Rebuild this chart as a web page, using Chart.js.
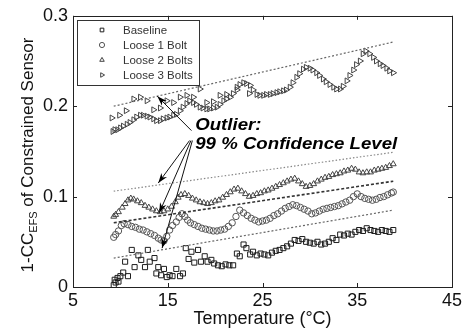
<!DOCTYPE html>
<html>
<head>
<meta charset="utf-8">
<script src="https://cdn.jsdelivr.net/npm/chart.js@4/dist/chart.umd.min.js"></script>
<style>
  html, body { margin: 0; background: #fff; }
  #wrap { width: 468px; height: 330px; }
</style>
</head>
<body>
<div id="wrap"><canvas id="chart"></canvas></div>
<script>
// Axis ticks
const xTicks = [5, 15, 25, 35, 45];
const yTicks = [0, 0.1, 0.2, 0.3];

// Series: [temperature, 1-CC]
const baselinePts = [[9.3,0.002],[9.4,0.008],[9.5,0.005],[9.7,0.010],[9.8,0.006],[10.0,0.012],[10.3,0.016],[10.5,0.028],[10.8,0.012],
  [11.2,0.041],[11.5,0.022],[11.9,0.035],[12.2,0.030],[12.6,0.022],[12.9,0.041],[13.1,0.028],[13.6,0.032],[13.8,0.015],[14.0,0.022],
  [14.3,0.013],[14.6,0.020],[14.9,0.011],[15.2,0.013],[15.5,0.012],[15.9,0.020],[16.3,0.012],[16.6,0.015],[16.9,0.043],[17.2,0.031],
  [17.5,0.039],[17.8,0.027],[18.2,0.041],[18.5,0.028],[18.9,0.034],[19.2,0.028],[19.6,0.030],[19.9,0.026],[20.3,0.024],[20.7,0.023],
  [21.1,0.025],[21.5,0.024],[21.9,0.024],[22.3,0.037],[22.6,0.034],[23.0,0.047],[23.3,0.043],[23.7,0.036],[24.0,0.039],[24.4,0.035],
  [24.8,0.037],[25.2,0.036],[25.6,0.035],[26.0,0.038],[26.4,0.040],[26.8,0.041],[27.2,0.043],[27.6,0.045],[28.0,0.048],[28.4,0.052],
  [28.8,0.051],[29.2,0.053],[29.6,0.050],[30.0,0.049],[30.4,0.048],[30.8,0.050],[31.2,0.047],[31.6,0.048],[32.0,0.050],[32.4,0.054],
  [32.8,0.052],[33.2,0.058],[33.6,0.057],[34.0,0.059],[34.4,0.058],[34.8,0.061],[35.2,0.063],[35.6,0.062],[36.0,0.065],[36.4,0.063],
  [36.8,0.062],[37.2,0.061],[37.6,0.063],[38.0,0.062],[38.4,0.061],[38.8,0.063]];

const loose1Pts = [[9.3,0.055],[9.5,0.058],[9.8,0.062],[10.1,0.068],[10.4,0.070],[10.8,0.069],[11.2,0.067],[11.6,0.066],[12.0,0.064],
  [12.4,0.063],[12.8,0.061],[13.2,0.059],[13.6,0.057],[14.0,0.054],[14.3,0.052],[14.6,0.051],[14.9,0.056],[15.2,0.063],[15.5,0.068],
  [15.9,0.072],[16.2,0.077],[16.5,0.081],[16.8,0.078],[17.1,0.074],[17.4,0.071],[17.8,0.069],[18.2,0.067],[18.6,0.065],[19.0,0.064],
  [19.4,0.063],[19.8,0.062],[20.2,0.062],[20.6,0.063],[21.0,0.064],[21.4,0.067],[21.8,0.071],[22.2,0.078],[22.6,0.085],[23.0,0.082],
  [23.4,0.079],[23.8,0.076],[24.2,0.074],[24.6,0.072],[25.0,0.073],[25.4,0.074],[25.8,0.076],[26.2,0.079],[26.6,0.081],[27.0,0.084],
  [27.4,0.087],[27.8,0.089],[28.2,0.091],[28.6,0.090],[29.0,0.088],[29.4,0.086],[29.8,0.084],[30.2,0.081],[30.6,0.082],[31.0,0.084],
  [31.4,0.086],[31.8,0.087],[32.2,0.088],[32.6,0.089],[33.0,0.090],[33.4,0.092],[33.8,0.094],[34.2,0.096],[34.6,0.100],[35.0,0.103],
  [35.4,0.100],[35.8,0.098],[36.2,0.097],[36.6,0.096],[37.0,0.097],[37.4,0.099],[37.8,0.100],[38.2,0.102],[38.6,0.104],[38.8,0.105]];

const loose2Pts = [[9.3,0.078],[9.5,0.080],[9.8,0.083],[10.2,0.088],[10.5,0.092],[10.8,0.096],[11.1,0.098],[11.4,0.097],[11.8,0.095],
  [12.2,0.093],[12.6,0.090],[13.0,0.088],[13.4,0.086],[13.8,0.084],[14.2,0.083],[14.6,0.084],[15.0,0.086],[15.4,0.089],[15.8,0.094],
  [16.1,0.099],[16.4,0.102],[16.8,0.103],[17.2,0.101],[17.6,0.098],[18.0,0.096],[18.4,0.094],[18.8,0.093],[19.2,0.092],[19.6,0.093],
  [20.0,0.095],[20.4,0.096],[20.8,0.099],[21.2,0.102],[21.6,0.105],[22.0,0.108],[22.4,0.109],[22.8,0.106],[23.2,0.103],[23.6,0.100],
  [24.0,0.101],[24.4,0.103],[24.8,0.104],[25.2,0.106],[25.6,0.107],[26.0,0.109],[26.4,0.111],[26.8,0.113],[27.2,0.115],[27.6,0.117],
  [28.0,0.119],[28.4,0.120],[28.8,0.117],[29.2,0.114],[29.6,0.111],[30.0,0.112],[30.4,0.114],[30.8,0.117],[31.2,0.119],[31.6,0.121],
  [32.0,0.122],[32.4,0.124],[32.8,0.125],[33.2,0.126],[33.6,0.128],[34.0,0.129],[34.4,0.131],[34.8,0.130],[35.2,0.127],[35.6,0.126],
  [36.0,0.127],[36.4,0.127],[36.8,0.129],[37.2,0.130],[37.6,0.131],[38.0,0.132],[38.4,0.134],[38.8,0.136]];

const loose3Pts = [[9.2,0.172],[9.4,0.174],[9.7,0.174],[10.0,0.176],[10.3,0.178],[10.7,0.180],[11.0,0.182],[11.4,0.185],[11.7,0.188],
  [12.1,0.190],[12.4,0.190],[12.8,0.189],[13.1,0.188],[13.5,0.186],[13.8,0.184],[14.2,0.184],[14.5,0.186],[14.9,0.187],[15.2,0.188],
  [15.6,0.190],[15.9,0.191],[16.3,0.195],[16.6,0.199],[17.0,0.203],[17.3,0.206],[17.7,0.204],[18.0,0.202],[18.4,0.199],[18.7,0.198],
  [19.1,0.197],[19.4,0.197],[19.8,0.198],[20.2,0.199],[20.5,0.202],[20.9,0.206],[21.2,0.208],[21.6,0.210],[21.9,0.214],[22.3,0.221],
  [22.6,0.224],[23.0,0.226],[23.3,0.225],[23.7,0.223],[24.0,0.218],[24.4,0.213],[24.7,0.212],[25.1,0.212],[25.4,0.213],[25.8,0.213],
  [26.1,0.214],[26.5,0.215],[26.8,0.216],[27.2,0.217],[27.5,0.218],[27.9,0.221],[28.2,0.226],[28.6,0.232],[28.9,0.236],[29.3,0.241],
  [29.6,0.243],[30.0,0.242],[30.3,0.240],[30.7,0.237],[31.0,0.234],[31.4,0.230],[31.7,0.227],[32.1,0.224],[32.5,0.221],[32.8,0.219],
  [33.2,0.219],[33.5,0.222],[33.9,0.228],[34.2,0.234],[34.6,0.240],[34.9,0.246],[35.3,0.250],[35.6,0.258],[35.9,0.261],[36.3,0.258],
  [36.7,0.254],[37.0,0.250],[37.4,0.247],[37.7,0.245],[38.1,0.242],[38.4,0.239],[38.8,0.237],
  [9.1,0.187],[9.9,0.190],[10.6,0.195],[11.4,0.208],[12.1,0.210],[12.8,0.206],[13.5,0.196],[14.2,0.198],[14.9,0.206],[15.6,0.204],
  [16.3,0.210],[17.0,0.212],[17.7,0.210],[18.4,0.219],[19.1,0.204],[19.8,0.205],[20.5,0.212],[21.2,0.213],[22.3,0.218],[23.6,0.214]];

// 99 % confidence thresholds (start, end)
const baselineLimit = [[9.3, 0.032], [38.8, 0.085]];
const loose1Limit = [[9.3, 0.071], [38.8, 0.117]];
const loose2Limit = [[9.3, 0.106], [38.8, 0.149]];
const loose3Limit = [[9.3, 0.200], [38.8, 0.271]];

// Annotation: text anchor and arrows (tail -> head), in data units
const noteLines = ['Outlier:', '99 % Confidence Level'];
const noteAnchor = [[17.9, 0.174], [17.9, 0.153]];
const arrowTails = [[17.5, 0.173], [17.3, 0.162], [17.45, 0.162], [17.6, 0.162]];
const arrowHeads = [[13.9, 0.211], [14.0, 0.115], [14.1, 0.082], [14.4, 0.043]];

const seriesNames = ['Baseline', 'Loose 1 Bolt', 'Loose 2 Bolts', 'Loose 3 Bolts'];

const toXY = pts => pts.map(p => ({ x: p[0], y: p[1] }));

function pointSet(label, pts, style, color, radius, rotation) {
    return {
        label: label,
        data: toXY(pts),
        pointStyle: style,
        rotation: rotation || 0,
        pointRadius: radius,
        borderColor: color,
        backgroundColor: 'rgba(255,255,255,0)',
        pointBorderWidth: 1,
        showLine: false
    };
}

function limitSet(pts, color, dash, width) {
    return {
        label: '',
        data: toXY(pts),
        showLine: true,
        pointRadius: 0,
        borderColor: color,
        borderWidth: width,
        borderDash: dash,
        fill: false
    };
}

const pointSets = [
    pointSet(seriesNames[0], baselinePts, 'rect', '#1e1e1e', 3.6),
    pointSet(seriesNames[1], loose1Pts, 'circle', '#555', 3.2),
    pointSet(seriesNames[2], loose2Pts, 'triangle', '#444', 3.4),
    pointSet(seriesNames[3], loose3Pts, 'triangle', '#444', 3.4, 90)
];

const limitSets = [
    limitSet(baselineLimit, '#666', [2, 2], 1.2),
    limitSet(loose1Limit, '#333', [3, 2], 1.6),
    limitSet(loose2Limit, '#888', [1.5, 2], 1.2),
    limitSet(loose3Limit, '#666', [2, 2], 1.2)
];

function line(ctx, x1, y1, x2, y2) {
    ctx.beginPath();
    ctx.moveTo(x1, y1);
    ctx.lineTo(x2, y2);
    ctx.stroke();
}

// Frame, inward ticks, legend, y title with subscript, outlier note
const decorPlugin = {
    id: 'decor',
    afterDraw(chart) {
        const { ctx, chartArea: a } = chart;
        const x = chart.scales.x, y = chart.scales.y;
        ctx.save();
        ctx.strokeStyle = '#222';
        ctx.lineWidth = 1;
        ctx.setLineDash([]);
        ctx.strokeRect(Math.round(a.left) + 0.5, Math.round(a.top) + 0.5,
            Math.round(a.right - a.left), Math.round(a.bottom - a.top));
        xTicks.forEach(t => {
            const px = Math.round(x.getPixelForValue(t)) + 0.5;
            line(ctx, px, a.bottom, px, a.bottom - 4);
            line(ctx, px, a.top, px, a.top + 4);
        });
        yTicks.forEach(t => {
            const py = Math.round(y.getPixelForValue(t)) + 0.5;
            line(ctx, a.left, py, a.left + 4, py);
            line(ctx, a.right, py, a.right - 4, py);
        });

        // legend box
        const lx = 77, ly = 20, lw = 122, lh = 65;
        ctx.fillStyle = '#fff';
        ctx.fillRect(lx, ly, lw, lh);
        ctx.strokeStyle = '#333';
        ctx.strokeRect(lx + 0.5, ly + 0.5, lw, lh);
        ctx.font = '11.5px "Liberation Sans", Arial, sans-serif';
        ctx.textBaseline = 'middle';
        ctx.textAlign = 'left';
        pointSets.forEach((ds, i) => {
            const ry = ly + 10 + i * 15;
            ctx.strokeStyle = ds.borderColor;
            ctx.fillStyle = '#fff';
            ctx.lineWidth = 1;
            if (Chart.helpers && Chart.helpers.drawPoint) {
                Chart.helpers.drawPoint(ctx, { pointStyle: ds.pointStyle, radius: 2.6, rotation: ds.rotation, borderWidth: 1 }, 102, ry);
            }
            ctx.fillStyle = '#333';
            ctx.fillText(ds.label, 123, ry + 1);
        });

        // y title with subscript
        ctx.save();
        ctx.translate(33, 155);
        ctx.rotate(-Math.PI / 2);
        ctx.fillStyle = '#111';
        ctx.textBaseline = 'alphabetic';
        const big = '17px "Liberation Sans", Arial, sans-serif';
        const small = '11px "Liberation Sans", Arial, sans-serif';
        const p1 = '1-CC', p2 = 'EFS', p3 = ' of Constrained Sensor';
        ctx.font = big; const w1 = ctx.measureText(p1).width, w3 = ctx.measureText(p3).width;
        ctx.font = small; const w2 = ctx.measureText(p2).width;
        let sx = -(w1 + w2 + w3) / 2;
        ctx.font = big; ctx.fillText(p1, sx, 0); sx += w1;
        ctx.font = small; ctx.fillText(p2, sx, 4); sx += w2;
        ctx.font = big; ctx.fillText(p3, sx, 0);
        ctx.restore();

        // outlier note, stretched a little to the reference width
        ctx.fillStyle = '#000';
        ctx.textBaseline = 'alphabetic';
        ctx.font = 'italic bold 17px "Liberation Sans", Arial, sans-serif';
        const stretch = 202 / ctx.measureText(noteLines[1]).width;
        noteLines.forEach((t, i) => {
            ctx.save();
            ctx.translate(x.getPixelForValue(noteAnchor[i][0]), y.getPixelForValue(noteAnchor[i][1]));
            ctx.scale(stretch, 1);
            ctx.fillText(t, 0, 0);
            ctx.restore();
        });
        ctx.strokeStyle = '#111';
        ctx.lineWidth = 1;
        arrowTails.forEach((tail, i) => {
            const x1 = x.getPixelForValue(tail[0]), y1 = y.getPixelForValue(tail[1]);
            const x2 = x.getPixelForValue(arrowHeads[i][0]), y2 = y.getPixelForValue(arrowHeads[i][1]);
            const ang = Math.atan2(y2 - y1, x2 - x1);
            line(ctx, x1, y1, x2, y2);
            ctx.beginPath();
            ctx.moveTo(x2, y2);
            ctx.lineTo(x2 - 10 * Math.cos(ang) + 3.5 * Math.sin(ang), y2 - 10 * Math.sin(ang) - 3.5 * Math.cos(ang));
            ctx.lineTo(x2 - 7 * Math.cos(ang), y2 - 7 * Math.sin(ang));
            ctx.lineTo(x2 - 10 * Math.cos(ang) - 3.5 * Math.sin(ang), y2 - 10 * Math.sin(ang) + 3.5 * Math.cos(ang));
            ctx.closePath();
            ctx.fillStyle = '#000';
            ctx.fill();
        });
        ctx.restore();
    }
};

const tickFont = { family: '"Liberation Sans", Arial, sans-serif', size: 18 };

new Chart(document.getElementById('chart'), {
    type: 'scatter',
    data: { datasets: [...limitSets, ...pointSets] },
    options: {
        responsive: true,
        maintainAspectRatio: false,
        animation: false,
        layout: { padding: { left: 0, right: 16, top: 14, bottom: 0 } },
        plugins: {
            legend: { display: false },
            tooltip: { enabled: false }
        },
        scales: {
            x: {
                type: 'linear',
                min: 5,
                max: 45,
                afterBuildTicks: s => { s.ticks = xTicks.map(v => ({ value: v })); },
                afterFit: s => { s.height = 43; },
                ticks: { font: tickFont, color: '#111', padding: 3, maxRotation: 0 },
                grid: { display: false, drawTicks: false },
                border: { display: false },
                title: {
                    display: true,
                    text: 'Temperature (°C)',
                    color: '#111',
                    font: { family: '"Liberation Sans", Arial, sans-serif', size: 18 },
                    padding: { top: 0, bottom: 0 }
                }
            },
            y: {
                type: 'linear',
                min: 0,
                max: 0.3,
                afterBuildTicks: s => { s.ticks = yTicks.map(v => ({ value: v })); },
                afterFit: s => { s.width = 73; },
                ticks: { font: tickFont, color: '#111', padding: 5, callback: v => String(v) },
                grid: { display: false, drawTicks: false },
                border: { display: false }
            }
        }
    },
    plugins: [decorPlugin]
});
</script>
</body>
</html>
